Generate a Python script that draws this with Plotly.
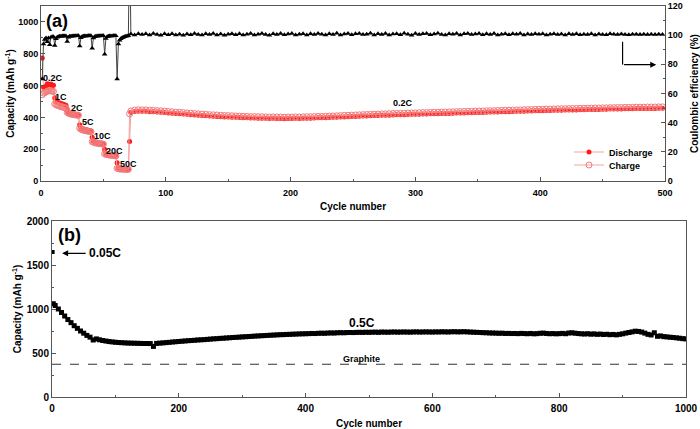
import plotly.graph_objects as go

# ---- panel (a): rate test then 0.2C cycling ----
cycles_a = list(range(1, 73)) + list(range(75, 499, 3))

discharge_a = [
    773, 590, 588, 595, 612, 608, 605, 610, 600, 602,
    521, 500, 495, 492, 490, 487, 484, 482, 478, 476,
    448, 432, 428, 426, 424, 422, 420, 418, 417, 415,
    353, 335, 330, 327, 325, 322, 320, 318, 316, 314,
    275, 252, 248, 245, 242, 240, 238, 236, 235, 233,
    200, 176, 172, 170, 168, 166, 164, 163, 161, 160,
    115, 85, 80, 78, 77, 76, 75, 75, 74, 74,
    248, 430,
    437, 439, 438, 438, 436, 435, 433, 432, 430, 428,
    426, 424, 423, 421, 419, 417, 415, 413, 412, 410,
    408, 407, 406, 404, 403, 402, 401, 400, 399, 398,
    397, 396, 396, 395, 395, 394, 393, 394, 393, 393,
    392, 393, 393, 394, 393, 394, 395, 395, 396, 397,
    397, 398, 399, 400, 401, 402, 403, 404, 405, 406,
    407, 408, 409, 410, 411, 412, 413, 413, 414, 415,
    416, 416, 417, 418, 419, 419, 420, 421, 421, 422,
    423, 423, 424, 425, 425, 426, 427, 427, 428, 429,
    429, 430, 431, 431, 432, 433, 433, 434, 435, 436,
    436, 437, 438, 438, 439, 440, 440, 441, 442, 442,
    443, 443, 444, 445, 445, 446, 446, 447, 447, 448,
    448, 449, 449, 450, 450, 451, 451, 452, 452, 453,
    453, 454, 454, 454, 455, 455, 455, 456, 456, 456,
    457, 457,
]

charge_a = [
    542, 552, 556, 560, 565, 567, 568, 566, 565, 563,
    485, 480, 476, 474, 471, 468, 466, 463, 461, 458,
    432, 426, 423, 421, 419, 418, 416, 415, 414, 413,
    332, 326, 322, 320, 318, 316, 314, 313, 311, 310,
    248, 244, 241, 239, 238, 236, 235, 234, 233, 232,
    171, 168, 166, 165, 163, 162, 161, 160, 159, 158,
    80, 77, 76, 75, 75, 74, 74, 73, 73, 73,
    422, 440,
    446, 448, 447, 447, 445, 444, 442, 441, 439, 437,
    435, 433, 432, 430, 428, 426, 424, 422, 421, 419,
    417, 416, 415, 413, 412, 411, 410, 409, 408, 407,
    406, 405, 405, 404, 404, 403, 402, 403, 402, 402,
    401, 402, 402, 403, 402, 403, 404, 404, 405, 406,
    406, 407, 408, 409, 410, 411, 412, 413, 414, 415,
    416, 417, 418, 419, 420, 421, 422, 422, 423, 424,
    425, 425, 426, 427, 428, 428, 429, 430, 430, 431,
    432, 432, 433, 434, 434, 435, 436, 436, 437, 438,
    438, 439, 440, 440, 441, 442, 442, 443, 444, 445,
    445, 446, 447, 447, 448, 449, 449, 450, 451, 451,
    452, 452, 453, 454, 454, 455, 455, 456, 456, 457,
    457, 458, 458, 459, 459, 460, 460, 461, 461, 462,
    462, 463, 463, 463, 464, 464, 464, 465, 465, 465,
    466, 466,
]

efficiency_a = [
    70, 94, 97, 98, 95.5, 98, 93.5, 98.5, 99, 99,
    93, 97.5, 98.5, 99, 99.2, 99.3, 99.4, 99.4, 99.5, 99.5,
    95.7, 98.5, 99.2, 99.3, 99.4, 99.5, 99.5, 99.6, 99.6, 99.6,
    92.5, 98.3, 99.1, 99.3, 99.4, 99.5, 99.5, 99.6, 99.6, 99.6,
    91, 98, 99.0, 99.3, 99.4, 99.5, 99.5, 99.6, 99.6, 99.6,
    87, 97.8, 99.0, 99.2, 99.4, 99.5, 99.5, 99.6, 99.6, 99.6,
    70, 94, 96.5, 97.5, 98.2, 98.6, 99.0, 99.3, 99.5, 99.6,
    170, 100.8,
    100.2, 101.0, 100.4, 100.9, 100.1, 101.1, 100.5, 100.0, 100.9, 100.3,
    101.0, 100.2, 100.7, 99.9, 100.8, 100.3, 101.1, 100.4, 100.1, 100.9,
    100.5, 101.2, 100.2, 100.8, 100.0, 100.6, 101.0, 100.3, 100.9, 100.1,
    100.7, 101.1, 100.2, 100.6, 101.2, 100.4, 100.0, 100.9, 100.5, 101.1,
    100.3, 100.8, 101.2, 100.2, 100.7, 101.0, 100.1, 100.9, 100.4, 101.2,
    100.6, 100.1, 101.0, 100.5, 101.3, 100.2, 100.8, 101.1, 100.3, 100.9,
    101.2, 100.4, 100.7, 101.3, 100.2, 100.9, 100.5, 101.2, 100.1, 100.8,
    101.0, 100.3, 101.3, 100.6, 100.0, 101.1, 100.4, 100.9, 101.2, 100.3,
    100.8, 101.3, 100.5, 100.1, 101.0, 100.6, 101.2, 100.2, 100.9, 101.1,
    100.4, 100.8, 101.2, 100.3, 100.9, 100.5, 101.1, 100.2, 100.7, 101.0,
    100.3, 100.9, 100.6, 101.2, 100.1, 100.8, 100.4, 101.0, 100.6, 100.9,
    100.2, 100.7, 101.0, 100.4, 100.8, 100.1, 100.9, 100.5, 101.0, 100.3,
    100.7, 100.4, 100.9, 100.2, 100.8, 100.5, 100.3, 100.9, 100.6, 100.4,
    100.8, 100.5, 100.3, 100.7, 100.6, 100.4, 100.7, 100.5, 100.6, 100.4,
    100.7, 100.5,
]

rate_labels = ["0.2C", "1C", "2C", "5C", "10C", "20C", "50C", "0.2C"]
rate_label_x = [9.6, 16, 29, 37.7, 49, 58.5, 70, 290]
rate_label_y = [646, 529, 460, 372, 284, 189, 107, 491]

# ---- panel (b): long cycling at 0.5C ----
first_cycle_b = [1]
first_cap_b = [1648]

cycles_b = [2] + list(range(5, 1001, 5))
capacity_b = [
    1060,
    1040, 1000, 960, 920, 880, 845, 810, 780, 750, 725,
    700, 680, 648, 660, 650, 642, 636, 630, 626, 622,
    619, 617, 615, 613, 612, 611, 610, 609, 608, 608,
    607, 575, 609, 612, 615, 618, 621, 625, 628, 631,
    634, 637, 640, 642, 645, 648, 650, 652, 655, 658,
    661, 663, 666, 668, 671, 673, 676, 678, 680, 683,
    685, 687, 689, 692, 694, 696, 698, 700, 702, 704,
    706, 708, 709, 711, 712, 714, 715, 717, 718, 719,
    720, 722, 721, 724, 725, 724, 727, 728, 727, 730,
    731, 730, 732, 733, 732, 734, 735, 734, 736, 735,
    736, 737, 735, 738, 737, 736, 738, 739, 737, 738,
    739, 738, 737, 739, 740, 738, 739, 740, 739, 738,
    740, 739, 741, 740, 739, 741, 742, 740, 741, 742,
    740, 738, 736, 735, 733, 731, 730, 728, 727, 726,
    724, 725, 722, 723, 721, 722, 720, 723, 721, 719,
    722, 718, 720, 724, 726, 722, 719, 721, 718, 720,
    723, 719, 727, 730, 725, 721, 718, 716, 719, 714,
    717, 712, 715, 710, 713, 708, 711, 706, 712, 718,
    726, 733, 740, 748, 745, 738, 726, 712, 705, 730,
    690, 694, 686, 683, 679, 676, 672, 668, 663, 660,
]

graphite_capacity = 372

FONT = "Arial, Liberation Sans, sans-serif"
red = "#ff1a1a"
pink = "#f4a3a3"

fig = go.Figure()

fig.add_trace(go.Scatter(
    x=cycles_a, y=discharge_a, name="Discharge", mode="lines+markers",
    line=dict(color=pink, width=1),
    marker=dict(symbol="circle", size=5, color=red),
    legend="legend", xaxis="x", yaxis="y"))
fig.add_trace(go.Scatter(
    x=cycles_a, y=charge_a, name="Charge", mode="lines+markers",
    line=dict(color=pink, width=1),
    marker=dict(symbol="circle-open", size=6, color="#f27a7a", line=dict(width=1)),
    legend="legend2", xaxis="x", yaxis="y"))
fig.add_trace(go.Scatter(
    x=cycles_a, y=efficiency_a, name="Coulombic efficiency", mode="lines+markers",
    line=dict(color="#444444", width=1),
    marker=dict(symbol="triangle-up", size=5, color="black"),
    showlegend=False, xaxis="x", yaxis="y3"))

fig.add_trace(go.Scatter(
    x=cycles_b, y=capacity_b, mode="lines+markers",
    line=dict(color="black", width=2),
    marker=dict(symbol="square", size=5, color="black"),
    showlegend=False, xaxis="x2", yaxis="y2"))
fig.add_trace(go.Scatter(
    x=first_cycle_b, y=first_cap_b, mode="markers",
    marker=dict(symbol="square", size=4, color="black"),
    showlegend=False, xaxis="x2", yaxis="y2"))

fig.add_shape(type="line", xref="x2", yref="y2", x0=0, x1=1000,
              y0=graphite_capacity, y1=graphite_capacity,
              line=dict(color="#333333", width=1, dash="dash"))

tickfont = dict(family=FONT, size=9, color="black", weight="bold")
tickfont_b = dict(family=FONT, size=10, color="black", weight="bold")
titlefont = dict(family=FONT, size=10, color="black", weight="bold")
axis_common = dict(showline=True, linecolor="#555555", linewidth=1, ticks="inside",
                   ticklen=4, tickcolor="#555555",
                   showgrid=False, zeroline=False, automargin=False,
                   ticklabeloverflow="allow")
minor_style = dict(ticks="inside", ticklen=2, tickcolor="#555555")
legend_common = dict(xanchor="left", yanchor="middle", bgcolor="rgba(0,0,0,0)",
                     font=dict(family=FONT, size=9, weight="bold"), itemwidth=30)

fig.update_layout(
    width=700, height=429,
    paper_bgcolor="white", plot_bgcolor="white",
    margin=dict(l=0, r=0, t=0, b=0),
    font=dict(family=FONT, color="black"),
    xaxis=dict(domain=[41 / 700, 665 / 700], anchor="y", range=[0, 500], dtick=100,
               mirror=True, minor=dict(dtick=50, **minor_style), tickfont=tickfont,
               ticklabelstandoff=3,
               title=dict(text="Cycle number", font=titlefont, standoff=6), **axis_common),
    yaxis=dict(domain=[248 / 429, 423 / 429], anchor="x", range=[0, 1100], dtick=200,
               mirror=True, minor=dict(dtick=100, **minor_style), tickfont=tickfont,
               title=dict(text="Capacity (mAh g<sup>-1</sup>)", font=titlefont, standoff=1),
               **axis_common),
    yaxis3=dict(overlaying="y", anchor="x", side="right", range=[0, 120], dtick=20,
                minor=dict(dtick=10, **minor_style), tickfont=tickfont,
                title=dict(text="Coulombic efficiency (%)", font=titlefont, standoff=10),
                **axis_common),
    xaxis2=dict(domain=[52 / 700, 686 / 700], anchor="y2", range=[0, 1000], dtick=200,
                mirror=True, minor=dict(dtick=100, **minor_style), tickfont=tickfont_b,
                ticklabelstandoff=2,
                title=dict(text="Cycle number", font=titlefont, standoff=9), **axis_common),
    yaxis2=dict(domain=[32 / 429, 208 / 429], anchor="x2", range=[0, 2000], dtick=500,
                mirror=True, minor=dict(dtick=250, **minor_style), tickfont=tickfont_b,
                title=dict(text="Capacity (mAh g<sup>-1</sup>)", font=titlefont, standoff=3),
                **axis_common),
    legend=dict(x=569 / 700, y=1 - 152 / 429, **legend_common),
    legend2=dict(x=569 / 700, y=1 - 165 / 429, **legend_common),
    showlegend=True,
)

for txt, lx, ly in zip(rate_labels, rate_label_x, rate_label_y):
    fig.add_annotation(x=lx, y=ly, xref="x", yref="y", text=txt, showarrow=False,
                       font=dict(family=FONT, size=9, color="black", weight="bold"))

fig.add_annotation(x=12.8, y=1008, xref="x", yref="y", text="(a)", showarrow=False,
                   font=dict(family=FONT, size=18, color="black", weight="bold"))
fig.add_annotation(x=27, y=1837, xref="x2", yref="y2", text="(b)", showarrow=False,
                   font=dict(family=FONT, size=18, color="black", weight="bold"))

# arrow pointing to the efficiency axis
fig.add_shape(type="line", xref="x", yref="y3", x0=466, x1=466, y0=95.5, y1=79.8,
              line=dict(color="black", width=1.2))
fig.add_annotation(x=493, y=79.8, xref="x", yref="y3", ax=466, ay=79.8,
                   axref="x", ayref="y3", text="", showarrow=True,
                   arrowhead=2, arrowsize=1, arrowwidth=1.2, arrowcolor="black")

# 0.05C arrow
fig.add_annotation(x=16, y=1633, xref="x2", yref="y2", ax=25, ay=0, text="",
                   showarrow=True, arrowhead=2, arrowsize=1, arrowwidth=1.2,
                   arrowcolor="black")
fig.add_annotation(x=55.7, y=1633, xref="x2", yref="y2", text="0.05C", showarrow=False,
                   xanchor="left", font=dict(family=FONT, size=12, color="black", weight="bold"))
fig.add_annotation(x=489, y=837, xref="x2", yref="y2", text="0.5C", showarrow=False,
                   font=dict(family=FONT, size=12, color="black", weight="bold"))
fig.add_annotation(x=488, y=428, xref="x2", yref="y2", text="Graphite", showarrow=False,
                   font=dict(family=FONT, size=9, color="black", weight="bold"))

# the page body keeps a default margin; remove it so the figure fills the window
fig.write_html("out.html", config={"displayModeBar": False},
               post_script="document.body.style.margin='0';")
